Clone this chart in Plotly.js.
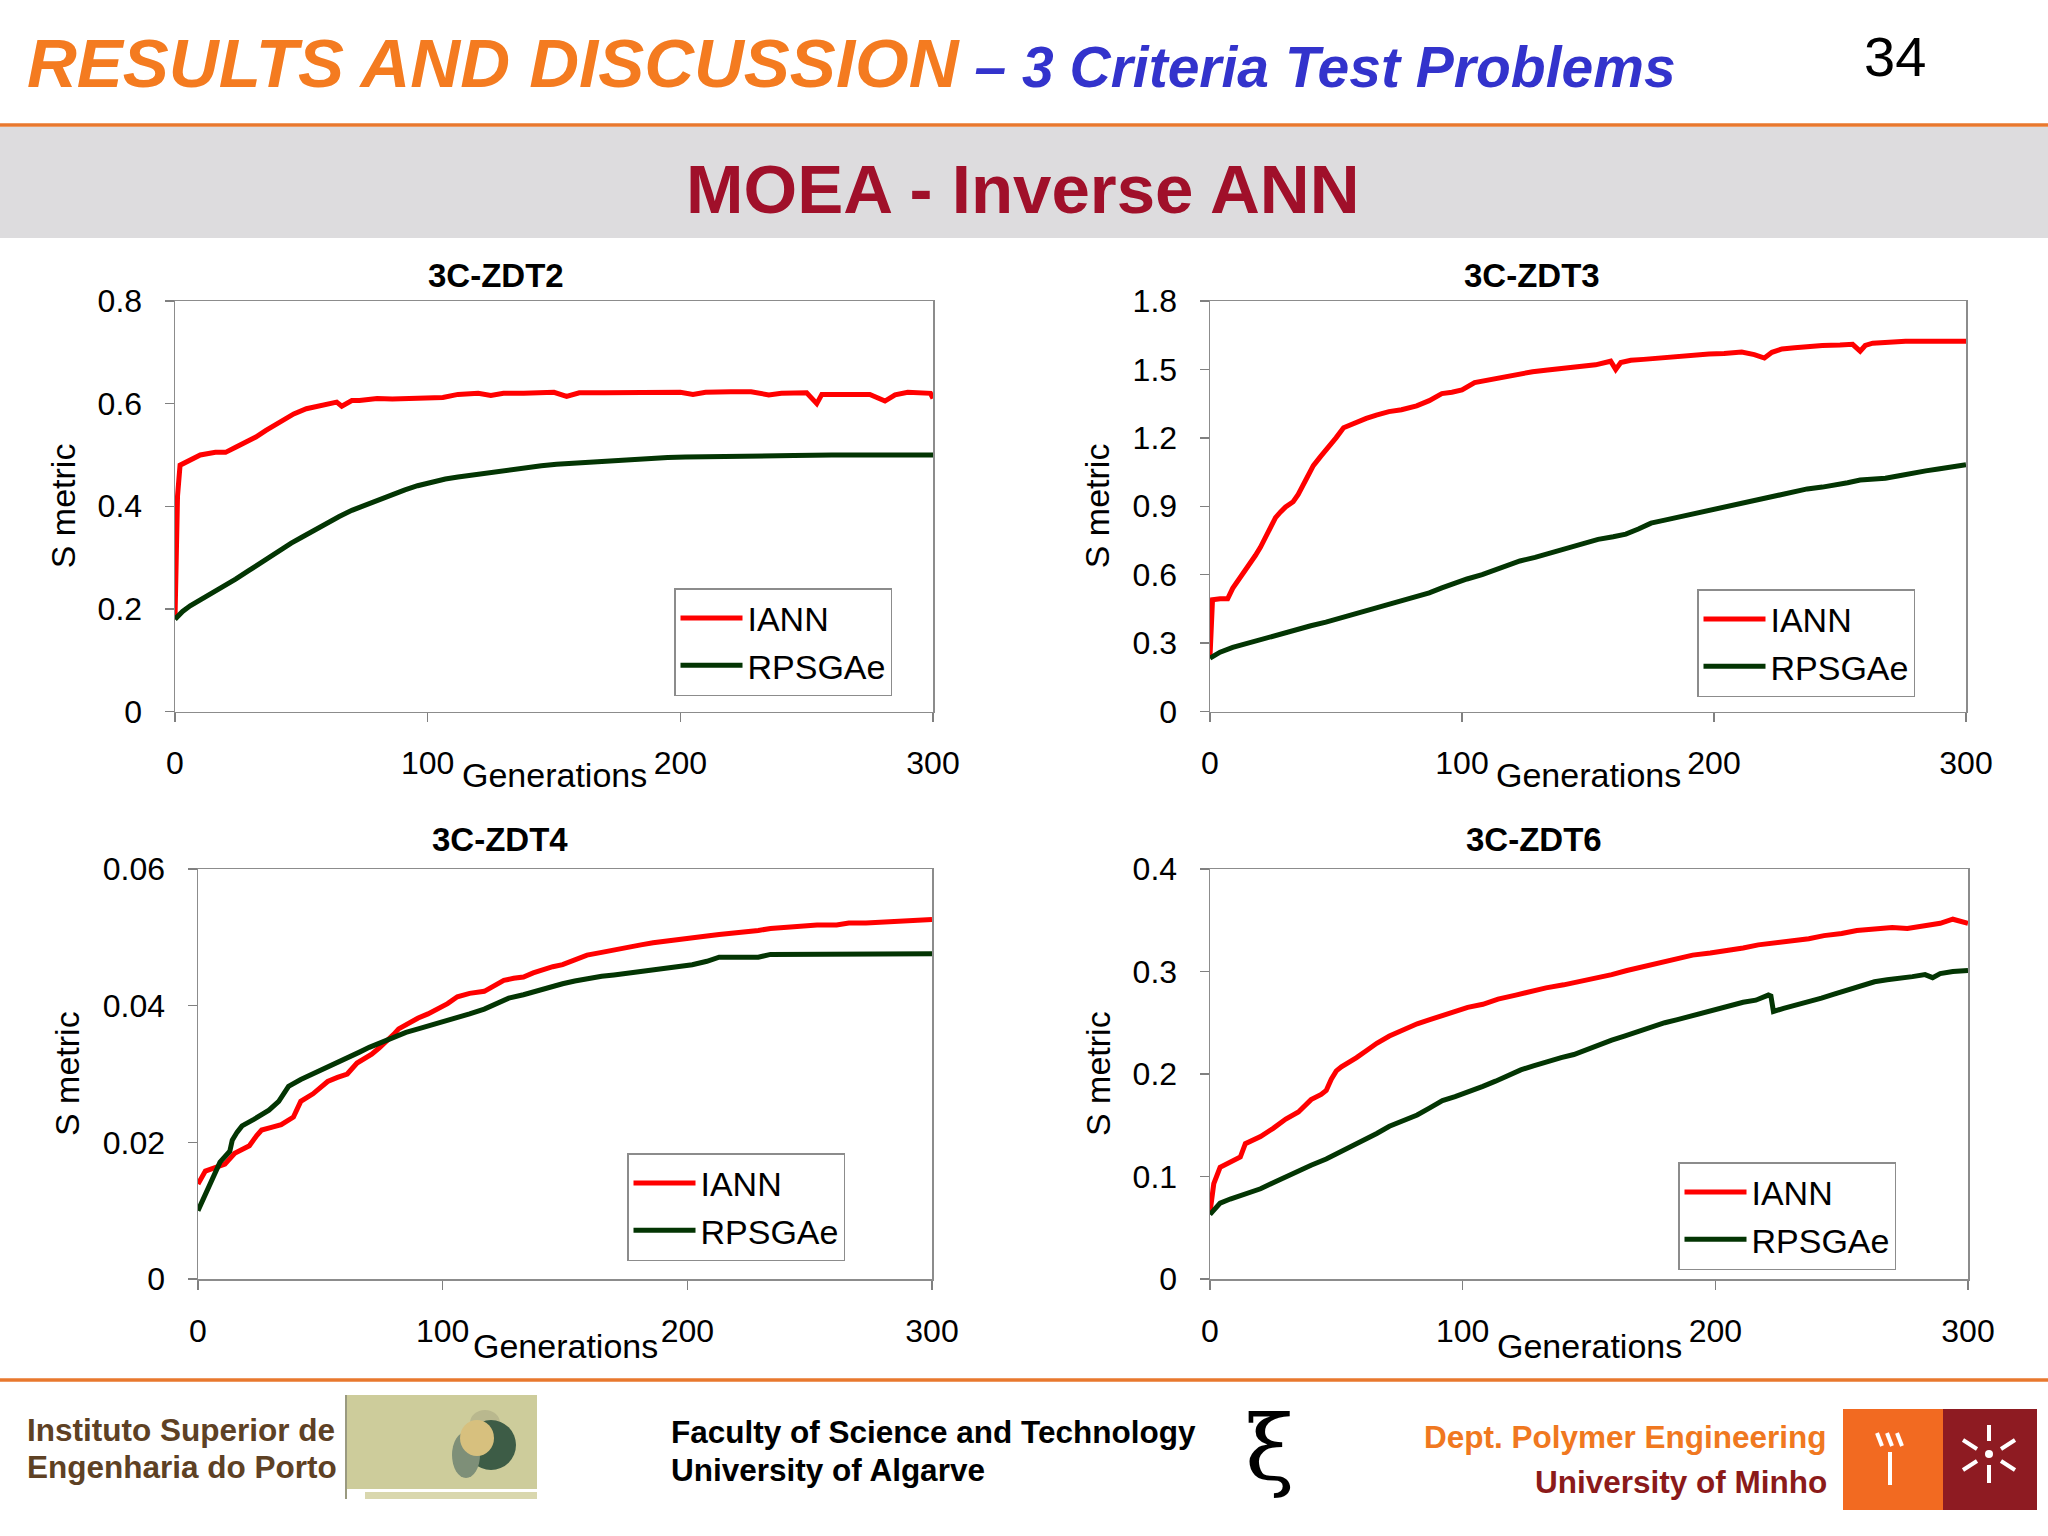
<!DOCTYPE html>
<html><head><meta charset="utf-8">
<script src="https://cdn.plot.ly/plotly-3.0.1.min.js"></script>
<style>html,body{margin:0;padding:0;background:#fff;}#chart{width:2048px;height:1536px;}</style>
</head><body><div id="chart"></div>
<script>
// ---------------- DATA ----------------
const seriesNames = ['IANN', 'RPSGAe'];
const xTicks = [0, 100, 200, 300];

// 3C-ZDT2
const zdt2_iann_gen = [0,1,2,6,10,16,20,24,28,32,36,40,44,47,52,56,60,64,66,70,73,80,86,92,99,106,112,120,125,130,138,145,150,155,160,170,180,190,200,205,210,220,228,235,240,250,254,256,265,275,281,285,290,296,299,300];
const zdt2_iann_val = [0.18,0.42,0.48,0.49,0.50,0.505,0.505,0.515,0.525,0.535,0.548,0.56,0.572,0.58,0.59,0.595,0.599,0.603,0.595,0.606,0.606,0.61,0.609,0.61,0.613,0.612,0.618,0.62,0.616,0.62,0.62,0.621,0.622,0.614,0.621,0.621,0.622,0.623,0.622,0.618,0.622,0.623,0.623,0.617,0.62,0.621,0.600,0.618,0.618,0.618,0.605,0.617,0.622,0.622,0.62,0.61];
const zdt2_rps_gen = [0,3,6,11,16,20,24,29,34,38,42,46,50,55,60,65,70,75,81,86,91,96,102,107,112,118,125,131,138,145,151,157,164,170,176,183,189,195,202,210,220,230,245,260,280,300];
const zdt2_rps_val = [0.18,0.195,0.206,0.22,0.234,0.245,0.258,0.274,0.29,0.304,0.318,0.328,0.339,0.353,0.367,0.38,0.392,0.402,0.413,0.423,0.432,0.44,0.448,0.453,0.457,0.461,0.465,0.47,0.476,0.479,0.482,0.484,0.486,0.488,0.49,0.492,0.494,0.495,0.496,0.497,0.498,0.499,0.499,0.5,0.5,0.5];
const zdt2_yTicks = [0, 0.2, 0.4, 0.6, 0.8];

// 3C-ZDT3
const zdt3_iann_gen = [0,1,4,7,9,11,13,16,18,20,22,24,26,28,30,33,35,38,41,44,47,50,53,58,62,66,71,76,82,87,92,96,100,105,109,113,118,123,128,134,140,147,153,159,161,163,167,172,178,185,191,198,204,211,216,220,223,227,232,237,243,250,255,258,260,263,270,276,285,292,300];
const zdt3_iann_val = [0.24,0.49,0.494,0.494,0.54,0.57,0.605,0.65,0.684,0.72,0.763,0.80,0.85,0.875,0.897,0.92,0.952,1.015,1.078,1.12,1.157,1.2,1.244,1.268,1.285,1.3,1.315,1.323,1.34,1.363,1.394,1.40,1.41,1.442,1.45,1.457,1.468,1.481,1.49,1.497,1.503,1.513,1.52,1.536,1.50,1.53,1.54,1.544,1.55,1.56,1.565,1.568,1.57,1.576,1.565,1.55,1.575,1.59,1.595,1.60,1.605,1.607,1.61,1.58,1.605,1.615,1.62,1.623,1.623,1.623,1.623];
const zdt3_rps_gen = [0,4,9,14,19,25,30,35,40,46,51,56,61,66,71,77,82,87,92,97,102,108,113,118,123,129,134,139,144,149,154,160,165,170,175,180,185,191,196,201,206,211,217,222,227,232,237,243,248,253,258,263,268,274,279,284,289,295,300];
const zdt3_rps_val = [0.234,0.26,0.281,0.297,0.313,0.328,0.344,0.36,0.376,0.392,0.407,0.423,0.439,0.455,0.47,0.486,0.502,0.52,0.542,0.562,0.581,0.60,0.62,0.64,0.66,0.676,0.692,0.708,0.723,0.739,0.755,0.766,0.778,0.80,0.826,0.838,0.85,0.862,0.873,0.885,0.897,0.912,0.928,0.94,0.952,0.964,0.976,0.984,0.992,1.003,1.015,1.019,1.023,1.035,1.047,1.055,1.063,1.072,1.082];
const zdt3_yTicks = [0, 0.3, 0.6, 0.9, 1.2, 1.5, 1.8];

// 3C-ZDT4
const zdt4_iann_gen = [0,3,7,11,15,18,21,24,26,30,34,39,42,47,50,53,57,61,65,68,71,74,77,80,82,86,90,94,98,102,106,111,117,121,125,129,133,137,141,145,149,154,159,165,170,176,181,186,192,197,202,208,213,219,224,229,234,240,245,253,261,266,273,280,288,294,300];
const zdt4_iann_val = [0.0139,0.0158,0.0163,0.0168,0.0184,0.019,0.0195,0.021,0.0218,0.0222,0.0226,0.0237,0.026,0.0271,0.028,0.0289,0.0295,0.03,0.0316,0.0322,0.0329,0.0338,0.0347,0.0358,0.0366,0.0375,0.0382,0.0388,0.0395,0.0403,0.0413,0.0418,0.0421,0.043,0.0437,0.044,0.0442,0.0448,0.0453,0.0457,0.046,0.0468,0.0474,0.0478,0.0482,0.0486,0.0489,0.0492,0.0495,0.0498,0.05,0.0502,0.0504,0.0506,0.0508,0.051,0.0513,0.0515,0.0517,0.0518,0.0518,0.0521,0.0521,0.0522,0.0524,0.0525,0.0526];
const zdt4_rps_gen = [0,2,5,9,13,14,16,18,23,26,29,33,37,42,46,50,54,58,62,66,70,74,80,85,90,95,100,106,111,117,122,127,133,138,143,149,154,159,165,170,176,181,186,192,197,202,208,213,220,229,234,245,258,270,285,300];
const zdt4_rps_val = [0.010,0.0115,0.0139,0.0171,0.0187,0.0203,0.0215,0.0224,0.0234,0.024,0.0247,0.026,0.0282,0.0292,0.0299,0.0305,0.0312,0.0318,0.0325,0.0332,0.0339,0.0345,0.0354,0.0361,0.0366,0.0371,0.0376,0.0382,0.0388,0.0395,0.0403,0.0411,0.0416,0.0421,0.0427,0.0432,0.0436,0.044,0.0443,0.0445,0.0448,0.045,0.0452,0.0455,0.0457,0.046,0.0465,0.0471,0.0471,0.0471,0.0475,0.0475,0.0476,0.0476,0.0476,0.0476];
const zdt4_yTicks = [0, 0.02, 0.04, 0.06];

// 3C-ZDT6
const zdt6_iann_gen = [0,1.5,4,9,12,14,17,20,25,30,35,38,40,44,46,48,50,52,55,58,62,66,71,77,82,87,92,97,102,108,114,121,127,133,140,146,152,159,165,172,178,185,191,198,204,211,217,224,230,237,243,250,256,263,270,276,283,289,294,297,300];
const zdt6_iann_val = [0.065,0.093,0.109,0.116,0.119,0.132,0.135,0.139,0.147,0.156,0.163,0.17,0.175,0.18,0.184,0.195,0.203,0.207,0.211,0.216,0.223,0.23,0.237,0.244,0.249,0.253,0.257,0.261,0.265,0.268,0.273,0.277,0.281,0.284,0.287,0.29,0.293,0.297,0.301,0.305,0.309,0.313,0.316,0.318,0.32,0.323,0.326,0.328,0.33,0.332,0.335,0.337,0.34,0.342,0.343,0.342,0.345,0.347,0.351,0.349,0.347];
const zdt6_rps_gen = [0,4,8,12,16,20,25,30,35,40,46,51,56,61,66,71,77,82,87,92,97,102,108,113,118,123,128,133,139,144,149,154,159,164,170,175,180,185,191,196,201,206,211,216,221,222,223,227,232,237,242,247,252,258,263,268,273,278,283,286,289,294,300];
const zdt6_rps_val = [0.063,0.074,0.078,0.081,0.085,0.088,0.094,0.10,0.105,0.111,0.117,0.123,0.129,0.135,0.142,0.149,0.155,0.16,0.167,0.174,0.178,0.182,0.188,0.193,0.199,0.204,0.208,0.212,0.216,0.219,0.224,0.228,0.233,0.237,0.242,0.246,0.25,0.253,0.257,0.261,0.264,0.267,0.27,0.272,0.277,0.276,0.261,0.264,0.267,0.27,0.274,0.278,0.282,0.286,0.29,0.292,0.293,0.295,0.297,0.294,0.298,0.30,0.301];
const zdt6_yTicks = [0, 0.1, 0.2, 0.3, 0.4];

const panelTitles = ['3C-ZDT2', '3C-ZDT3', '3C-ZDT4', '3C-ZDT6'];

// ---------------- LAYOUT HELPERS ----------------
const W = 2048, H = 1536;
const FONT = 'Liberation Sans, Arial, sans-serif';
const px = v => v / W;
const py = v => 1 - v / H;
const RED = '#FF0000', GREEN = '#033503';

const panels = [
  {gi: zdt2_iann_gen, vi: zdt2_iann_val, gr: zdt2_rps_gen, vr: zdt2_rps_val, yt: zdt2_yTicks,
   box: [175, 933, 301, 711.5], title: [496, 275], ytitle: 63, legend: [674, 588], gen: 63},
  {gi: zdt3_iann_gen, vi: zdt3_iann_val, gr: zdt3_rps_gen, vr: zdt3_rps_val, yt: zdt3_yTicks,
   box: [1210, 1966, 301, 711.5], title: [1532, 275], ytitle: 1097, legend: [1697, 589], gen: 63},
  {gi: zdt4_iann_gen, vi: zdt4_iann_val, gr: zdt4_rps_gen, vr: zdt4_rps_val, yt: zdt4_yTicks,
   box: [198, 932, 869, 1279], title: [500, 839], ytitle: 67, legend: [627, 1153], gen: 67},
  {gi: zdt6_iann_gen, vi: zdt6_iann_val, gr: zdt6_rps_gen, vr: zdt6_rps_val, yt: zdt6_yTicks,
   box: [1210, 1968, 869, 1279], title: [1534, 839], ytitle: 1098, legend: [1678, 1162], gen: 67}
];

const traces = [];
const layout = {
  width: W, height: H,
  margin: {l: 0, r: 0, t: 0, b: 0},
  paper_bgcolor: '#ffffff', plot_bgcolor: '#ffffff',
  font: {family: FONT, color: '#000000', size: 32},
  showlegend: true,
  annotations: [], shapes: []
};

panels.forEach((p, i) => {
  const n = i + 1;
  const xa = 'xaxis' + (n === 1 ? '' : n), ya = 'yaxis' + (n === 1 ? '' : n);
  const xr = 'x' + (n === 1 ? '' : n), yr = 'y' + (n === 1 ? '' : n);
  const lg = 'legend' + (n === 1 ? '' : n);
  const [x0, x1, yTop, yBot] = p.box;
  const ymax = p.yt[p.yt.length - 1];
  traces.push({x: p.gi, y: p.vi, xaxis: xr, yaxis: yr, type: 'scatter', mode: 'lines',
    name: seriesNames[0], legend: lg,
    line: {color: RED, width: 5}, hoverinfo: 'skip'});
  traces.push({x: p.gr, y: p.vr, xaxis: xr, yaxis: yr, type: 'scatter', mode: 'lines',
    name: seriesNames[1], legend: lg,
    line: {color: GREEN, width: 5}, hoverinfo: 'skip'});
  layout[xa] = {domain: [px(x0), px(x1)], anchor: yr, range: [0, 300],
    tickmode: 'array', tickvals: xTicks, ticktext: xTicks.map(String),
    ticks: 'outside', ticklen: 9, tickwidth: 1.5, tickcolor: '#808080',
    showline: true, linecolor: '#8c8c8c', linewidth: 1.5, mirror: true,
    showgrid: false, zeroline: false, ticklabelstandoff: 14,
    tickfont: {family: FONT, size: 32, color: '#000'}};
  layout[ya] = {domain: [py(yBot), py(yTop)], anchor: xr, range: [0, ymax],
    tickmode: 'array', tickvals: p.yt, ticktext: p.yt.map(String),
    ticks: 'outside', ticklen: 9, tickwidth: 1.5, tickcolor: '#808080',
    showline: true, linecolor: '#8c8c8c', linewidth: 1.5, mirror: true,
    showgrid: false, zeroline: false, ticklabelstandoff: 16,
    tickfont: {family: FONT, size: 32, color: '#000'}};
  layout[lg] = {x: px(p.legend[0]), y: py(p.legend[1]), xanchor: 'left', yanchor: 'top',
    bgcolor: '#ffffff', bordercolor: '#8c8c8c', borderwidth: 1.5,
    font: {family: FONT, size: 34, color: '#000'}, traceorder: 'normal',
    itemwidth: 62};
  // panel title
  layout.annotations.push({text: '<b>' + panelTitles[i] + '</b>', xref: 'paper', yref: 'paper',
    x: px(p.title[0]), y: py(p.title[1]), xanchor: 'center', yanchor: 'middle', showarrow: false,
    font: {family: FONT, size: 33, color: '#000'}});
  // axis titles
  layout.annotations.push({text: 'Generations', xref: 'paper', yref: 'paper',
    x: px((x0 + x1) / 2), y: py(yBot + p.gen), xanchor: 'center', yanchor: 'middle', showarrow: false,
    font: {family: FONT, size: 34, color: '#000'}});
  layout.annotations.push({text: 'S metric', xref: 'paper', yref: 'paper', textangle: -90,
    x: px(p.ytitle), y: py((yTop + yBot) / 2), xanchor: 'center', yanchor: 'middle', showarrow: false,
    font: {family: FONT, size: 34, color: '#000'}});
});

// ---------------- HEADER ----------------
layout.shapes.push({type: 'rect', xref: 'paper', yref: 'paper', layer: 'below',
  x0: 0, x1: 1, y0: py(238), y1: py(127), fillcolor: '#DDDCDE', line: {width: 0}});
layout.shapes.push({type: 'line', xref: 'paper', yref: 'paper',
  x0: 0, x1: 1, y0: py(125), y1: py(125), line: {color: '#E8782E', width: 3.5}});
layout.annotations.push({xref: 'paper', yref: 'paper', x: px(25), y: py(64), xanchor: 'left', yanchor: 'middle',
  showarrow: false, font: {family: FONT, size: 69, color: '#F47B20'},
  text: '<b><i>RESULTS AND DISCUSSION</i></b><span style="font-size:57px;fill:#3333CC;color:#3333CC"><b><i> – 3 Criteria Test Problems</i></b></span>'});
layout.annotations.push({xref: 'paper', yref: 'paper', x: px(1895), y: py(56), xanchor: 'center', yanchor: 'middle',
  showarrow: false, text: '34', font: {family: FONT, size: 56, color: '#000'}});
layout.annotations.push({xref: 'paper', yref: 'paper', x: px(1023), y: py(189), xanchor: 'center', yanchor: 'middle',
  showarrow: false, text: '<b>MOEA - Inverse ANN</b>', font: {family: FONT, size: 69, color: '#A0102A'}});

// ---------------- FOOTER ----------------
layout.shapes.push({type: 'line', xref: 'paper', yref: 'paper',
  x0: 0, x1: 1, y0: py(1380), y1: py(1380), line: {color: '#E8782E', width: 3.5}});
const ftext = (t, x, y, color, anchor) => layout.annotations.push({xref: 'paper', yref: 'paper',
  x: px(x), y: py(y), xanchor: anchor, yanchor: 'middle', showarrow: false,
  text: '<b>' + t + '</b>', font: {family: FONT, size: 31.5, color: color}});
ftext('Instituto Superior de', 25, 1430, '#5E4124', 'left');
ftext('Engenharia do Porto', 25, 1467, '#5E4124', 'left');
ftext('Faculty of Science and Technology', 669, 1432, '#000000', 'left');
ftext('University of Algarve', 669, 1470, '#000000', 'left');
ftext('Dept. Polymer Engineering', 1829, 1437, '#F07820', 'right');
ftext('University of Minho', 1829, 1482, '#8B1A1A', 'right');
layout.annotations.push({xref: 'paper', yref: 'paper', x: px(1270), y: py(1447), xanchor: 'center', yanchor: 'middle',
  showarrow: false, text: 'ξ', font: {family: 'DejaVu Serif, serif', size: 90, color: '#000'}});

// ISEP logo
const rect = (x0, x1, y0, y1, c, t) => layout.shapes.push({type: t || 'rect', xref: 'paper', yref: 'paper',
  x0: px(x0), x1: px(x1), y0: py(y1), y1: py(y0), fillcolor: c, line: {width: 0}});
rect(346, 537, 1395, 1489, '#CDCC9B');
rect(365, 537, 1492, 1499, '#D9D7AE');
rect(345, 347, 1395, 1499, '#9A9A80');
rect(470, 500, 1410, 1436, '#B9B88E', 'circle');
rect(466, 516, 1420, 1470, '#3D5C46', 'circle');
rect(452, 480, 1432, 1478, '#7E8F78', 'circle');
rect(460, 494, 1420, 1456, '#D7C07E', 'circle');

// Minho logo
rect(1843, 1943, 1409, 1510, '#F26A21');
rect(1943, 2037, 1409, 1510, '#8E1B22');
const wl = (x0, y0, x1, y1, w) => layout.shapes.push({type: 'line', xref: 'paper', yref: 'paper',
  x0: px(x0), y0: py(y0), x1: px(x1), y1: py(y1), line: {color: '#ffffff', width: w || 4}});
wl(1877, 1433, 1882, 1446); wl(1887, 1433, 1892, 1446); wl(1897, 1433, 1902, 1446);
wl(1890, 1452, 1890, 1485, 4);
wl(1989, 1425, 1989, 1441); wl(1989, 1465, 1989, 1483);
wl(1963, 1440, 1977, 1449); wl(2001, 1449, 2015, 1440);
wl(1963, 1470, 1977, 1461); wl(2001, 1461, 2015, 1470);
rect(1985, 1993, 1450, 1458, '#ffffff', 'circle');

Plotly.newPlot('chart', traces, layout, {displayModeBar: false, staticPlot: true});
</script>
</body></html>
